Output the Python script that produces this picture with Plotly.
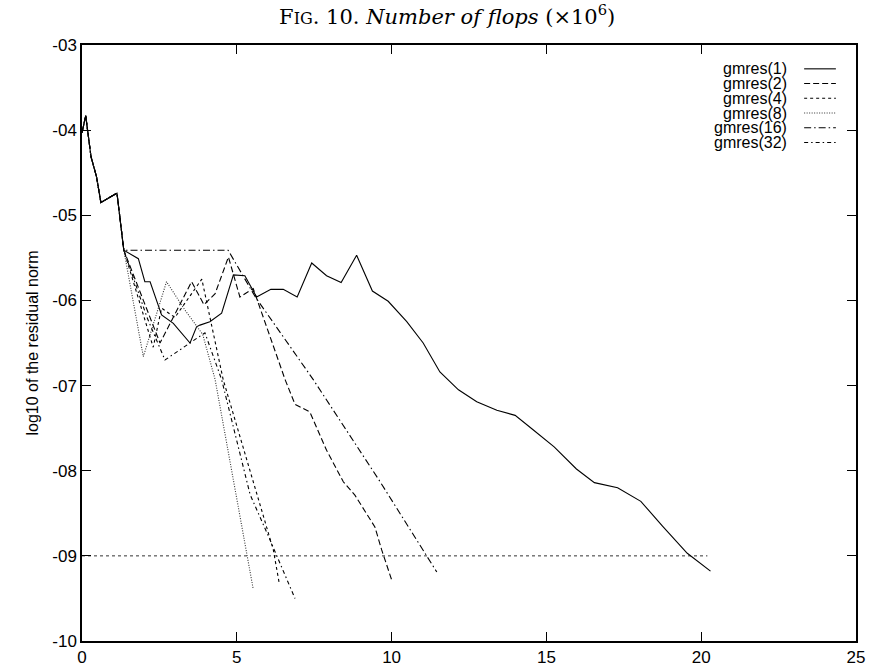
import plotly.graph_objects as go

# ---------------- data ----------------
names = ["gmres(1)", "gmres(2)", "gmres(4)", "gmres(8)", "gmres(16)", "gmres(32)"]

x1 = [0, 0.12, 0.29, 0.47, 0.61, 1.13, 1.35, 1.82, 2.03, 2.2, 2.57, 2.95, 3.49, 3.7, 3.81,
      4.13, 4.51, 4.89, 5.26, 5.64, 6.1, 6.5, 6.95, 7.42, 7.9, 8.37, 8.87, 9.38, 9.89,
      10.49, 11.02, 11.56, 12.16, 12.75, 13.4, 13.99, 14.54, 15.25, 15.97, 16.55, 17.3,
      18.05, 18.75, 19.55, 20.3]
y1 = [-4.03, -3.83, -4.31, -4.55, -4.85, -4.74, -5.41, -5.51, -5.78, -5.78, -6.17, -6.27,
      -6.50, -6.31, -6.29, -6.25, -6.15, -5.70, -5.71, -5.96, -5.87, -5.87, -5.96, -5.56,
      -5.71, -5.79, -5.47, -5.89, -6.01, -6.25, -6.50, -6.84, -7.05, -7.19, -7.29, -7.35,
      -7.51, -7.72, -7.98, -8.14, -8.20, -8.36, -8.65, -8.97, -9.18]

x2 = [0, 0.12, 0.29, 0.47, 0.61, 1.13, 1.35, 2.52, 3.54, 3.94, 4.30, 4.73, 5.1,
      5.53, 6.56, 6.88, 7.36, 7.9, 8.44, 8.82, 9.46, 9.68, 10.0]
y2 = [-4.03, -3.83, -4.31, -4.55, -4.85, -4.74, -5.41, -6.5, -5.78, -6.05, -5.92, -5.49,
      -5.96, -5.86, -6.93, -7.22, -7.31, -7.76, -8.13, -8.29, -8.66, -8.93, -9.28]

x4 = [0, 0.12, 0.29, 0.47, 0.61, 1.13, 1.35, 2.3, 2.57, 3.0, 3.87, 4.56, 6.18, 6.37]
y4 = [-4.03, -3.83, -4.31, -4.55, -4.85, -4.74, -5.41, -6.55, -6.09, -6.2, -5.75, -6.93,
      -8.93, -9.32]

x8 = [0, 0.12, 0.29, 0.47, 0.61, 1.13, 1.35, 1.98, 2.73, 3.3, 3.9, 4.30, 5.53]
y8 = [-4.03, -3.83, -4.31, -4.55, -4.85, -4.74, -5.41, -6.66, -5.78, -6.1, -6.4, -6.93,
      -9.39]

x16 = [0, 0.12, 0.29, 0.47, 0.61, 1.13, 1.35, 4.72, 5.6, 7.47, 9.63, 11.46]
y16 = [-4.03, -3.83, -4.31, -4.55, -4.85, -4.74, -5.41, -5.41, -5.96, -6.93, -8.13, -9.19]

x32 = [0, 0.12, 0.29, 0.47, 0.61, 1.13, 1.35, 2.1, 2.68, 3.49, 3.97, 4.51, 5.43, 6.07, 6.88]
y32 = [-4.03, -3.83, -4.31, -4.55, -4.85, -4.74, -5.41, -6.2, -6.70, -6.50, -6.38, -6.93,
       -8.28, -8.81, -9.5]

tol_x = [0, 20.2]
tol_y = [-9, -9]

xs = [x1, x2, x4, x8, x16, x32]
ys = [y1, y2, y4, y8, y16, y32]

x_ticks = [0, 5, 10, 15, 20, 25]
y_ticks = [-3, -4, -5, -6, -7, -8, -9, -10]
y_ticktext = ["-03", "-04", "-05", "-06", "-07", "-08", "-09", "-10"]

# ---------------- styling ----------------
dashes = ["solid", "6px,3px", "3px,3px", "1px,1.5px", "7px,3px,1.5px,3px", "4px,3px,1.5px,3px"]
colors = ["black", "black", "black", "#333333", "black", "black"]
FONT = "Liberation Sans, Arial, sans-serif"

fig = go.Figure()
fig.add_trace(go.Scatter(x=tol_x, y=tol_y, mode="lines", showlegend=False,
                         line=dict(color="#333333", width=1, dash="3px,3px")))
for n, x, y, d, c in zip(names, xs, ys, dashes, colors):
    fig.add_trace(go.Scatter(x=x, y=y, mode="lines", name=n, showlegend=False,
                             line=dict(color=c, width=1.1, dash=d)))

# manual legend (label text to the left of the line sample)
leg_y0 = 0.960
leg_dy = 0.0247
annotations = []
shapes = []
for i, (n, d, c) in enumerate(zip(names, dashes, colors)):
    yy = leg_y0 - i * leg_dy
    annotations.append(dict(xref="paper", yref="paper", x=0.913, y=yy, text=n,
                            showarrow=False, xanchor="right", yanchor="middle",
                            font=dict(family=FONT, size=16, color="black")))
    shapes.append(dict(type="line", xref="paper", yref="paper", x0=0.933, x1=0.974,
                       y0=yy, y1=yy, line=dict(color=c, width=1.1, dash=d)))

axis_common = dict(showgrid=False, zeroline=False, showline=True, linecolor="black",
                   linewidth=1.5, mirror="ticks", ticks="inside", ticklen=9,
                   tickwidth=1.2, tickcolor="black", automargin=False,
                   tickfont=dict(family=FONT, size=17, color="black"))

fig.update_layout(
    width=870, height=671,
    margin=dict(l=82, r=14, t=45, b=30, autoexpand=False),
    paper_bgcolor="white", plot_bgcolor="white",
    title=dict(text="F<span style='font-size:16px'>IG</span>. 10. <i>Number of flops</i> (×10<sup>6</sup>)",
               xref="container", x=0.514, xanchor="center",
               yref="container", y=0.986, yanchor="top",
               font=dict(family="DejaVu Serif, serif", size=21, color="black"),
               automargin=False),
    xaxis=dict(range=[0, 25], tickvals=x_ticks, ticktext=[str(v) for v in x_ticks], **axis_common),
    yaxis=dict(range=[-10, -3], tickvals=y_ticks, ticktext=y_ticktext,
               title=dict(text="log10 of the residual norm", standoff=10,
                          font=dict(family=FONT, size=16, color="black")),
               **axis_common),
    annotations=annotations,
    shapes=shapes,
)

fig.write_html("out.html", config={"displayModeBar": False},
               post_script="document.body.style.margin='0';document.body.style.padding='0';"
                           "document.documentElement.style.overflow='hidden';")
